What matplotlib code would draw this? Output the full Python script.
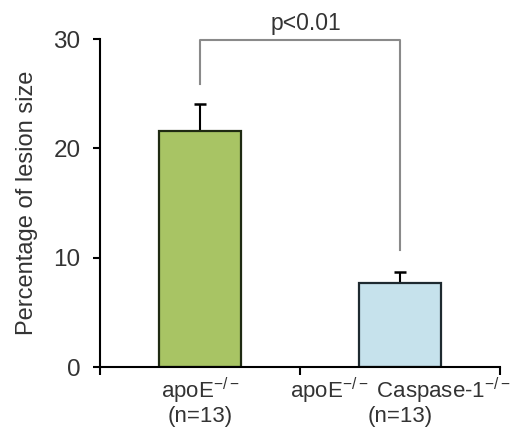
import matplotlib.pyplot as plt
import numpy as np

plt.rcParams['font.family'] = ['Liberation Sans', 'DejaVu Sans']
plt.rcParams['mathtext.fontset'] = 'custom'
plt.rcParams['mathtext.rm'] = 'Liberation Sans'
plt.rcParams['mathtext.it'] = 'Liberation Sans'

# Data
groups = ['apoE$^{-/-}$\n(n=13)', 'apoE$^{-/-}$ Caspase-1$^{-/-}$\n(n=13)']
means = [21.6, 7.7]
errors = [2.5, 1.0]
bar_colors = ['#a8c464', '#c6e2ec']
edge_colors = ['#1f2a12', '#1e2a30']
bracket_y = [25.9, 29.9, 29.9, 10.7]
p_text = 'p<0.01'


def main():

    # Create figure and axis
    fig = plt.figure(figsize=(5.18, 4.29), dpi=100)
    ax = fig.add_axes([0.193, 0.1445, 0.772, 0.7645])

    x = np.array([0.5, 1.5])

    # Plot bars with upward error bars
    for xi, m, e, fc, ec in zip(x, means, errors, bar_colors, edge_colors):
        ax.bar(xi, m, width=0.41, color=fc, edgecolor=ec, linewidth=1.6,
               zorder=2)
        ax.errorbar(xi, m, yerr=[[0], [e]], fmt='none', ecolor='black',
                    elinewidth=1.5, capsize=4, capthick=1.8, zorder=1)

    # Significance bracket
    ax.plot([x[0], x[0], x[1], x[1]], bracket_y, color='#8a8a8a', lw=1.5,
            clip_on=False)
    ax.text(1.03, 30.4, p_text, ha='center', va='bottom', fontsize=16.5,
            color='#333333')

    # Axes styling
    ax.set_xlim(0, 2)
    ax.set_ylim(0, 30)
    ax.set_yticks([0, 10, 20, 30])
    ax.set_xticks([0, 1, 2])
    ax.set_xticklabels([])
    ax.set_xticks(x, minor=True)
    ax.set_xticklabels(groups, minor=True, fontsize=16, color='#333333',
                       linespacing=1.0)
    ax.tick_params(axis='x', which='minor', length=0, pad=6)
    ax.tick_params(axis='x', which='major', length=6, width=1.5)
    ax.tick_params(axis='y', length=5, width=1.5, labelsize=17.5, pad=9,
                   labelcolor='#333333')
    for side in ['top', 'right']:
        ax.spines[side].set_visible(False)
    for side in ['left', 'bottom']:
        ax.spines[side].set_linewidth(1.5)

    ax.set_ylabel('Percentage of lesion size', fontsize=17, color='#333333',
                  labelpad=11)

    # Save figure
    fig.savefig('out.png', dpi=100)
    plt.close()


if __name__ == "__main__":
    main()
